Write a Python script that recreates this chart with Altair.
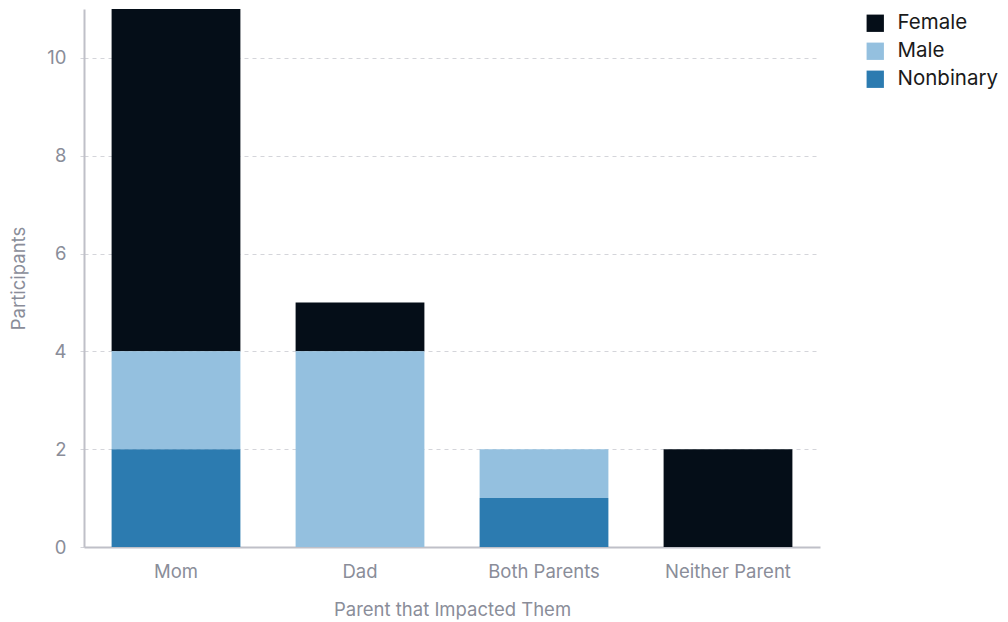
import altair as alt
import pandas as pd

# Participants by which parent impacted them, split by gender
parents = ["Mom", "Dad", "Both Parents", "Neither Parent"]
genders = ["Female", "Male", "Nonbinary"]
female = [7, 1, 0, 2]
male = [2, 4, 1, 0]
nonbinary = [2, 0, 1, 0]
colors = ["#050e18", "#94c0df", "#2c7bb0"]
stack_rank = {"Nonbinary": 0, "Male": 1, "Female": 2}

rows = []
for g, vals in zip(genders, [female, male, nonbinary]):
    for p, v in zip(parents, vals):
        if v > 0:
            rows.append({"parent": p, "gender": g, "count": v, "rank": stack_rank[g]})
df = pd.DataFrame(rows)

font = "Inter"
label_color = "#8a8d99"

chart = (
    alt.Chart(df)
    .mark_bar()
    .encode(
        x=alt.X(
            "parent:N",
            sort=parents,
            title="Parent that Impacted Them",
            scale=alt.Scale(paddingInner=0.3, paddingOuter=0.15),
            axis=alt.Axis(
                labelAngle=0,
                ticks=False,
                labelPadding=15,
                titlePadding=20,
                domainColor="#bfc0c8",
                domainWidth=2,
            ),
        ),
        y=alt.Y(
            "count:Q",
            stack="zero",
            title="Participants",
            scale=alt.Scale(domain=[0, 11], nice=False),
            axis=alt.Axis(
                values=[0, 2, 4, 6, 8, 10],
                grid=True,
                gridDash=[4, 4],
                gridColor="#d4d5da",
                tickColor="#d4d5da",
                tickDash=[4, 4],
                tickSize=8,
                labelPadding=10,
                titlePadding=18,
                domainColor="#bfc0c8",
                domainWidth=2,
            ),
        ),
        color=alt.Color(
            "gender:N",
            scale=alt.Scale(domain=genders, range=colors),
            legend=alt.Legend(
                title=None,
                orient="none",
                legendX=781,
                legendY=4,
                symbolType="square",
                symbolSize=300,
                symbolStrokeWidth=0,
                labelFontSize=20.5,
                labelColor="#1a1a1a",
                labelFont=font,
                rowPadding=7,
                labelOffset=12,
            ),
        ),
        order=alt.Order("rank:Q", sort="ascending"),
    )
    .properties(
        width=736,
        height=538,
        padding={"left": 84, "top": 9, "right": 188, "bottom": 75},
        autosize=alt.AutoSizeParams(type="none"),
    )
    .configure_view(stroke=None)
    .configure_axis(
        labelFont=font,
        titleFont=font,
        labelFontSize=18.5,
        titleFontSize=18.5,
        labelColor=label_color,
        titleColor=label_color,
        titleFontWeight="normal",
    )
)

chart.save("out.html", embed_options={"renderer": "svg", "actions": False})
